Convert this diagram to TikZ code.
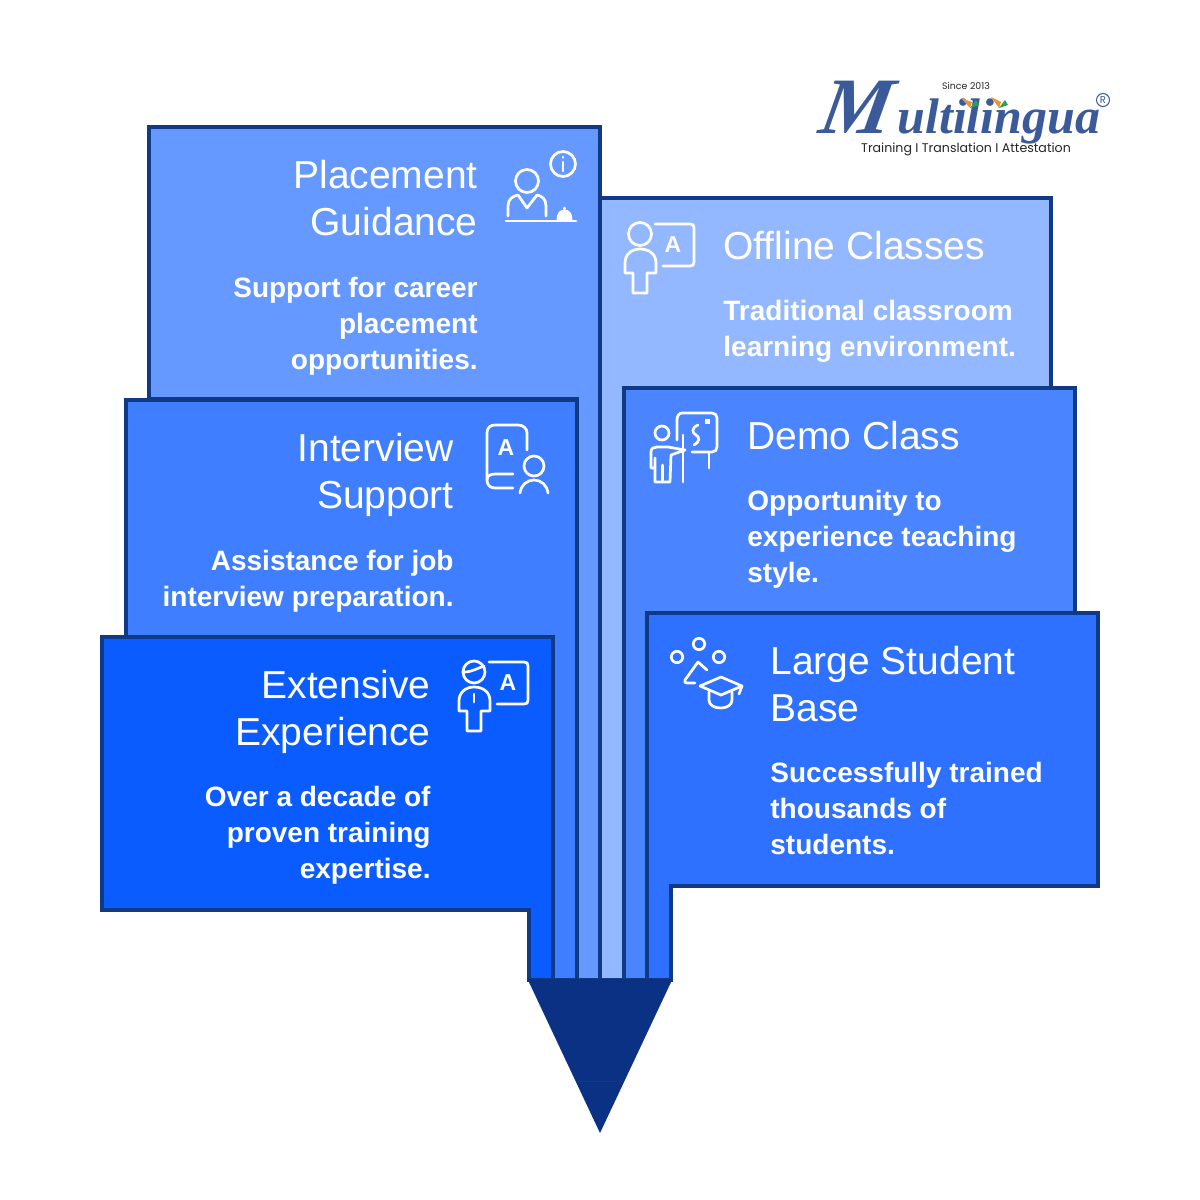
\documentclass[tikz,border=0pt]{standalone}
\usepackage{fontspec}
\setmainfont{Liberation Sans}
\newfontfamily\logoserif{Liberation Serif}
\newfontfamily\logosans{Poppins}
\definecolor{edgeblue}{HTML}{103A85}
\definecolor{tipblue}{HTML}{0B3185}
\definecolor{placec}{HTML}{6699FF}
\definecolor{offc}{HTML}{94B8FF}
\definecolor{intc}{HTML}{3F7FFF}
\definecolor{democ}{HTML}{4A85FF}
\definecolor{largec}{HTML}{2E70FF}
\definecolor{extc}{HTML}{0A5CFF}
\definecolor{logoc}{HTML}{3A5A9A}
\definecolor{petalo}{HTML}{E8963C}
\definecolor{petalg}{HTML}{2E9E5B}
\tikzset{
  panel/.style={draw=edgeblue,line width=1.55pt,line join=miter},
  icon/.style={draw=white,line width=1.35pt,line cap=round,line join=round},
  ttl/.style={text=white,inner sep=0pt,font=\fontsize{19.5pt}{23.5pt}\selectfont},
  dsc/.style={text=white,inner sep=0pt,font=\fontsize{14pt}{17.9pt}\selectfont\bfseries},
  ttlr/.style={ttl,anchor=north east,align=right},
  dscr/.style={dsc,anchor=north east,align=right},
  ttll/.style={ttl,anchor=north west,align=left},
  dscl/.style={dsc,anchor=north west,align=left},
  iconletter/.style={text=white,inner sep=0pt,font=\fontsize{11.5pt}{11.5pt}\selectfont\bfseries}
}
\begin{document}
\begin{tikzpicture}[x=0.5pt,y=-0.5pt]
\useasboundingbox (0,0) rectangle (1200,1200);
\fill[white] (0,0) rectangle (1200,1200);
% panels
\draw[panel,fill=placec] (149,127)--(600,127)--(600,980)--(577,980)--(577,399)--(149,399)--cycle;
\draw[panel,fill=offc] (600,198)--(1051,198)--(1051,388)--(624,388)--(624,980)--(600,980)--cycle;
\draw[panel,fill=intc] (126,400)--(577,400)--(577,980)--(553,980)--(553,637)--(126,637)--cycle;
\draw[panel,fill=democ] (624,388)--(1075,388)--(1075,613)--(647,613)--(647,980)--(624,980)--cycle;
\draw[panel,fill=extc] (102,637)--(553,637)--(553,980)--(529,980)--(529,910)--(102,910)--cycle;
\draw[panel,fill=largec] (647,613)--(1098,613)--(1098,886)--(671,886)--(671,980)--(647,980)--cycle;
% tip
\fill[tipblue] (527.5,979)--(672.5,979)--(600,1133)--cycle;
\draw[edgeblue,line width=0.4pt] (577,1081)--(623,1081);
% texts
\node[ttlr] (t1) at (478,160) {Placement\\Guidance};
\node[dscr] (d1) at (478,277) {Support for career\\placement\\opportunities.};
\node[ttlr] (t2) at (454,433) {Interview\\Support};
\node[dscr] (d2) at (454,550) {Assistance for job\\interview preparation.};
\node[ttlr] (t3) at (431,670) {Extensive\\Experience};
\node[dscr] (d3) at (431,786) {Over a decade of\\proven training\\expertise.};
\node[ttll] (t4) at (723,231) {Offline Classes};
\node[dscl] (d4) at (723,300) {Traditional classroom\\learning environment.};
\node[ttll] (t5) at (747,421) {Demo Class};
\node[dscl] (d5) at (747,490) {Opportunity to\\experience teaching\\style.};
\node[ttll] (t6) at (770,646) {Large Student\\Base};
\node[dscl] (d6) at (770,762) {Successfully trained\\thousands of\\students.};
% icon placement
\draw[icon] (527,181) circle (11.5);
\draw[icon] (508,216)--(508,206)..controls (508,199) and (513,196) .. (518,195)--(527,208)--(537,195)..controls (542,196) and (546,199) .. (546,206)--(546,216);
\draw[icon] (506,221)--(576,221);
\draw[icon,fill=white] (558,220)..controls (558,213) and (561,211) .. (564.5,211)..controls (568,211) and (571,213) .. (571,220)--cycle;
\draw[icon] (564.5,208)--(564.5,209);
\draw[icon] (563,164) circle (12.5);
\draw[icon] (563,162)--(563,171);
\draw[icon] (563,157)--(563,157.5);
% icon offline
\draw[icon] (640,234) circle (11.5);
\draw[icon] (647,293)--(633,293)--(633,273)--(625,273)--(625,263)..controls (625,254) and (632,249) .. (640,249)..controls (649,249) and (656,254) .. (656,263)--(656,273)--(647,273)--cycle;
\draw[icon] (655,224)--(690,224)..controls (693,224) and (694,225) .. (694,228)--(694,262)..controls (694,265) and (693,266) .. (690,266)--(663,266);
\node[iconletter] (a4) at (673,245) {A};
% icon interview
\draw[icon] (527,450)--(527,433)..controls (527,428) and (523,425) .. (518,425)--(495,425)..controls (490,425) and (487,428) .. (487,433)--(487,480)..controls (487,485) and (490,488) .. (495,488)--(513,488);
\draw[icon] (513,474)--(495,474)..controls (490,474) and (487,476) .. (487,480);
\node[iconletter] (a2) at (506,448) {A};
\draw[icon] (534,466) circle (10);
\draw[icon] (520,493)..controls (521,485) and (527,480) .. (534,480)..controls (541,480) and (547,485) .. (548,493);
% icon extensive
\draw[icon] (474,672) circle (11);
\draw[icon] (464,672)..controls (472,672) and (478,668) .. (484,666);
\draw[icon] (481,731)--(467,731)--(467,711)--(459,711)--(459,701)..controls (459,692) and (466,687) .. (474,687)..controls (483,687) and (490,692) .. (490,701)--(490,711)--(481,711)--cycle;
\draw[icon] (474,694)--(474,702);
\draw[icon] (489,662)--(524,662)..controls (527,662) and (528,663) .. (528,666)--(528,700)..controls (528,703) and (527,704) .. (524,704)--(497,704);
\node[iconletter] (a3) at (508,683) {A};
% icon demo
\draw[icon] (662,433) circle (7);
\draw[icon] (677,440)--(677,420)..controls (677,416) and (679,413) .. (682,413)--(712,413)..controls (715,413) and (717,415) .. (717,418)--(717,447)..controls (717,450) and (715,452) .. (712,452)--(692,452);
\draw[icon] (709,452)--(709,468);
\draw[icon] (683,435)--(683,482);
\draw[icon] (698,425)..controls (691,428) and (692,433) .. (696,435)..controls (700,437) and (700,442) .. (694,445);
\fill[white] (704.5,419) rectangle (709.5,424);
\draw[icon] (654,468)--(651,468)--(651,452)..controls (651,448) and (654,447) .. (657,447)--(668,447)--(685,450)--(671,455)--(670,482)--(655,482)--(655,458);
\draw[icon] (662.5,482)--(662.5,465);
% icon large
\draw[icon] (677,657) circle (5.7);
\draw[icon] (699,644) circle (5.7);
\draw[icon] (719,657) circle (5.7);
\draw[icon] (707,670)--(698,662)--(685,680)..controls (684,682) and (685,683) .. (687,683)--(695,683);
\draw[icon] (700,686)--(721,677)--(742,686)--(721,695)--cycle;
\draw[icon] (709,692)--(709,700)..controls (709,705) and (714,708) .. (720.5,708)..controls (727,708) and (732,705) .. (732,700)--(732,692);
\draw[icon] (742,686)--(739,694);
% logo
\node[text=logoc,inner sep=0pt,anchor=base west,xslant=0.18,font=\fontsize{40pt}{40pt}\selectfont\logoserif\bfseries\itshape] (logom) at (817,133) {M};
\node[text=logoc,inner sep=0pt,anchor=base west,font=\fontsize{25pt}{25pt}\selectfont\logoserif\bfseries\itshape] (logor) at (897,133) {ultilingua};
\node[text=black!85,inner sep=0pt,font=\fontsize{4.7pt}{5pt}\selectfont\logosans] (since) at (966,85.5) {Since 2013};
\node[text=black!85,inner sep=0pt,font=\fontsize{6.3pt}{7pt}\selectfont\logosans] (tag) at (966,149) {Training I Translation I Attestation};
\draw[logoc,line width=0.5pt] (1103,100) circle (6.5);
\node[text=logoc,inner sep=0pt,font=\fontsize{5pt}{5pt}\selectfont\logosans] (reg) at (1103,100) {R};
% flowers
\fill[petalo] (961,98)--(972,102)--(970,108)--cycle;
\fill[petalg] (970,108)--(976,100)--(979,105)--cycle;
\fill[petalo] (991,97)--(1001,102)--(999,108)--cycle;
\fill[petalg] (999,108)--(1005,100)--(1008,105)--cycle;
\end{tikzpicture}
\end{document}
